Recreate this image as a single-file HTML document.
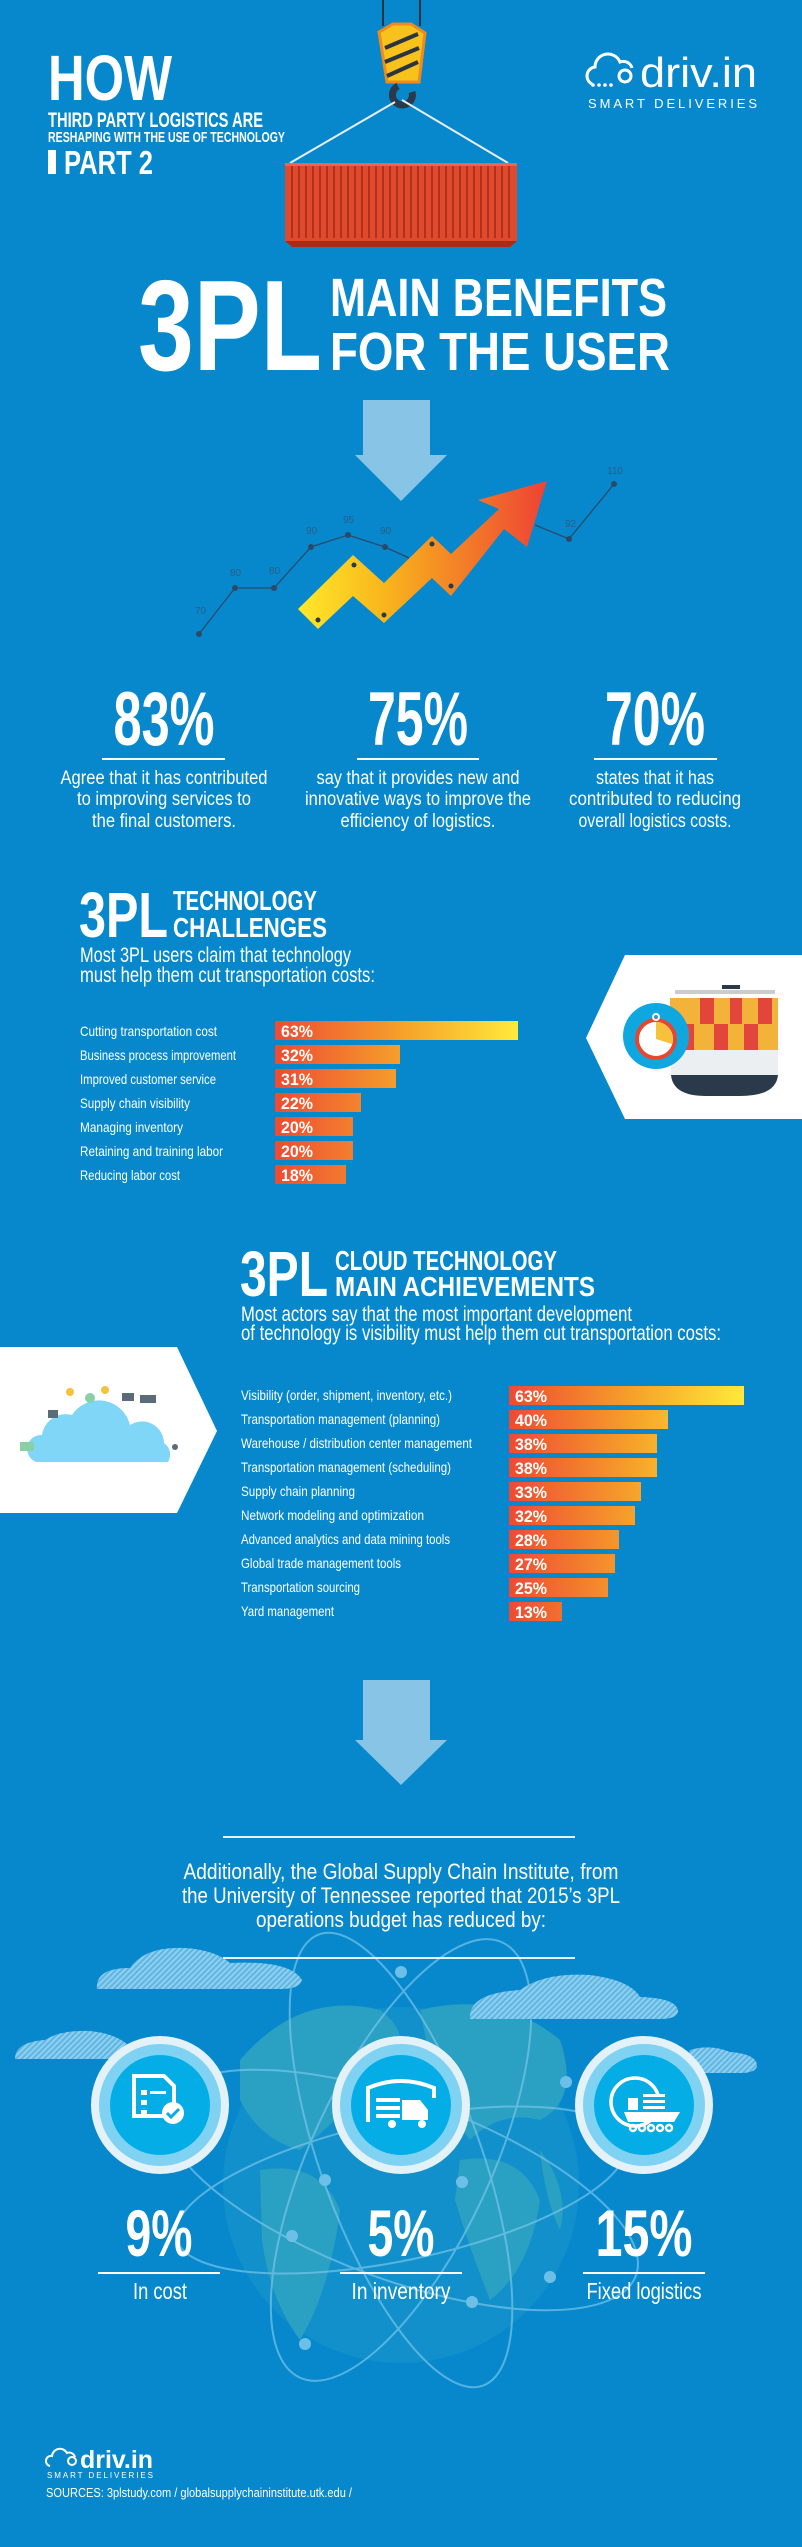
<!DOCTYPE html>
<html><head><meta charset="utf-8"><style>
html,body{margin:0;padding:0;background:#0788cd;}
svg{display:block}
text{font-family:"Liberation Sans Narrow","Liberation Sans",Arial,sans-serif;fill:#fff}
.b{font-weight:bold}
.lab{font-size:14px}
.pct{font-size:17px;font-weight:bold}
text.cl{fill:#2c5d85;font-size:10px}
</style></head><body>
<svg width="802" height="2547" viewBox="0 0 802 2547" xmlns="http://www.w3.org/2000/svg">
<defs>
<linearGradient id="g1" gradientUnits="userSpaceOnUse" x1="275" y1="0" x2="518" y2="0">
<stop offset="0" stop-color="#ee4a33"/><stop offset="0.55" stop-color="#f6a52a"/><stop offset="1" stop-color="#ffe93a"/></linearGradient>
<linearGradient id="g2" gradientUnits="userSpaceOnUse" x1="509" y1="0" x2="744" y2="0">
<stop offset="0" stop-color="#ee4a33"/><stop offset="0.55" stop-color="#f6a52a"/><stop offset="1" stop-color="#ffe93a"/></linearGradient>
<linearGradient id="ga" gradientUnits="userSpaceOnUse" x1="298" y1="0" x2="547" y2="0">
<stop offset="0" stop-color="#ffe92a"/><stop offset="0.35" stop-color="#f8b51c"/><stop offset="1" stop-color="#ee4234"/></linearGradient>
<pattern id="hatch" width="4" height="4" patternUnits="userSpaceOnUse" patternTransform="rotate(45)">
<rect width="4" height="4" fill="#5fb6e2"/><rect width="2" height="4" fill="#8fd0f0"/></pattern>
</defs>
<rect width="802" height="2547" fill="#0788cd"/>

<!-- header -->
<text x="48" y="100" class="b" font-size="64" textLength="124" lengthAdjust="spacingAndGlyphs">HOW</text>
<text x="48" y="127" class="b" font-size="21" textLength="215" lengthAdjust="spacingAndGlyphs">THIRD PARTY LOGISTICS ARE</text>
<text x="48" y="142" class="b" font-size="15" textLength="237" lengthAdjust="spacingAndGlyphs">RESHAPING WITH THE USE OF TECHNOLOGY</text>
<rect x="48" y="150" width="8" height="24" fill="#fff"/>
<text x="64" y="174" class="b" font-size="33" textLength="89" lengthAdjust="spacingAndGlyphs">PART 2</text>

<!-- logo -->
<g fill="none" stroke="#fff" stroke-width="3">
<path d="M592 84 a9 9 0 0 1 3 -17 a13 13 0 0 1 25 -5 a9 9 0 0 1 12 6"/>
<circle cx="625" cy="76" r="6"/>
</g>
<circle cx="593" cy="85" r="1.8" fill="#fff"/><circle cx="599" cy="85" r="1.8" fill="#fff"/><circle cx="605" cy="85" r="1.8" fill="#fff"/><circle cx="611" cy="85" r="1.8" fill="#fff"/>
<text x="640" y="87" font-size="42" textLength="117" lengthAdjust="spacingAndGlyphs">driv.in</text>
<text x="588" y="108" font-size="13" textLength="169" lengthAdjust="spacing">SMART DELIVERIES</text>

<!-- hook + container -->
<line x1="383" y1="0" x2="383" y2="26" stroke="#2b3440" stroke-width="2"/>
<line x1="420" y1="0" x2="420" y2="26" stroke="#2b3440" stroke-width="2"/>
<polygon points="379,32 393,24 411,24 425,33 419,82 387,82" fill="#f7c21b" stroke="#f08a1d" stroke-width="3"/>
<g stroke="#2b3440" stroke-width="4"><line x1="385" y1="48" x2="418" y2="34"/><line x1="385" y1="62" x2="419" y2="48"/><line x1="387" y1="76" x2="418" y2="62"/></g>
<path d="M412 92 a10 10 0 1 1 -14 -6" fill="none" stroke="#2b3a4a" stroke-width="7"/>
<line x1="395" y1="102" x2="290" y2="163" stroke="#e9eef2" stroke-width="2"/>
<line x1="402" y1="100" x2="508" y2="163" stroke="#e9eef2" stroke-width="2"/>
<rect x="285" y="163" width="232" height="78" fill="#e04a2c"/>
<g stroke="#b3311c" stroke-width="2">
<path d="M292 166V238M299 166V238M306 166V238M313 166V238M320 166V238M327 166V238M334 166V238M341 166V238M348 166V238M355 166V238M362 166V238M369 166V238M376 166V238M383 166V238M390 166V238M397 166V238M404 166V238M411 166V238M418 166V238M425 166V238M432 166V238M439 166V238M446 166V238M453 166V238M460 166V238M467 166V238M474 166V238M481 166V238M488 166V238M495 166V238M502 166V238M509 166V238"/></g>
<rect x="285" y="163" width="232" height="3" fill="#f0654a"/>
<polygon points="285,241 517,241 510,247 292,247" fill="#a82a17"/>

<!-- title -->
<text x="138" y="370" class="b" font-size="129" textLength="184" lengthAdjust="spacingAndGlyphs">3PL</text>
<text x="330" y="316" class="b" font-size="54" textLength="337" lengthAdjust="spacingAndGlyphs">MAIN BENEFITS</text>
<text x="330" y="370" class="b" font-size="54" textLength="340" lengthAdjust="spacingAndGlyphs">FOR THE USER</text>

<!-- down arrow -->
<rect x="363" y="400" width="67" height="56" fill="#87c4e6"/>
<polygon points="355,455 447,455 401,501" fill="#87c4e6"/>

<!-- line chart -->
<polyline points="199,634 235,588 274,588 311,547 348,535 385,547 409,558" fill="none" stroke="#2b4a6b" stroke-width="1.3"/>
<polyline points="535,525 569,539 614,484" fill="none" stroke="#2b4a6b" stroke-width="1.3"/>
<g fill="#2b4a6b"><circle cx="199" cy="634" r="3"/><circle cx="235" cy="588" r="3"/><circle cx="274" cy="588" r="3"/><circle cx="311" cy="547" r="3"/><circle cx="348" cy="535" r="3"/><circle cx="385" cy="547" r="3"/><circle cx="569" cy="539" r="3"/><circle cx="614" cy="484" r="3"/></g>
<text x="195" y="614" class="cl">70</text><text x="230" y="576" class="cl">80</text><text x="269" y="574" class="cl">80</text><text x="306" y="534" class="cl">90</text><text x="343" y="523" class="cl">95</text><text x="380" y="534" class="cl">90</text><text x="565" y="527" class="cl">92</text><text x="607" y="474" class="cl">110</text>
<polygon points="298,609 353,555 384,583 432,536 451,554 499,509 478,500 547,481 527,547 504,529 451,596 432,578 384,623 353,596 318,629" fill="url(#ga)"/>
<g fill="#2b3a4a"><circle cx="318" cy="620" r="2.5"/><circle cx="354" cy="565" r="2.5"/><circle cx="384" cy="615" r="2.5"/><circle cx="432" cy="544" r="2.5"/><circle cx="451" cy="586" r="2.5"/></g>

<!-- stats -->
<g font-size="76" text-anchor="middle">
<text x="164" y="745" class="b" textLength="101" lengthAdjust="spacingAndGlyphs">83%</text>
<text x="418" y="745" class="b" textLength="100" lengthAdjust="spacingAndGlyphs">75%</text>
<text x="655" y="745" class="b" textLength="100" lengthAdjust="spacingAndGlyphs">70%</text></g>
<g fill="#fff"><rect x="102" y="758" width="123" height="2"/><rect x="357" y="758" width="122" height="2"/><rect x="594" y="758" width="123" height="2"/></g>
<g font-size="19" text-anchor="middle">
<text x="164" y="784" textLength="207" lengthAdjust="spacingAndGlyphs">Agree that it has contributed</text>
<text x="164" y="805" textLength="174" lengthAdjust="spacingAndGlyphs">to improving services to</text>
<text x="164" y="827" textLength="144" lengthAdjust="spacingAndGlyphs">the final customers.</text>
<text x="418" y="784" textLength="203" lengthAdjust="spacingAndGlyphs">say that it provides new and</text>
<text x="418" y="805" textLength="226" lengthAdjust="spacingAndGlyphs">innovative ways to improve the</text>
<text x="418" y="827" textLength="155" lengthAdjust="spacingAndGlyphs">efficiency of logistics.</text>
<text x="655" y="784" textLength="118" lengthAdjust="spacingAndGlyphs">states that it has</text>
<text x="655" y="805" textLength="172" lengthAdjust="spacingAndGlyphs">contributed to reducing</text>
<text x="655" y="827" textLength="153" lengthAdjust="spacingAndGlyphs">overall logistics costs.</text></g>

<!-- section 2 -->
<text x="79" y="937" class="b" font-size="64" textLength="89" lengthAdjust="spacingAndGlyphs">3PL</text>
<text x="173" y="910" class="b" font-size="28" textLength="144" lengthAdjust="spacingAndGlyphs">TECHNOLOGY</text>
<text x="173" y="937" class="b" font-size="28" textLength="154" lengthAdjust="spacingAndGlyphs">CHALLENGES</text>
<text x="80" y="962" font-size="21" textLength="271" lengthAdjust="spacingAndGlyphs">Most 3PL users claim that technology</text>
<text x="80" y="982" font-size="21" textLength="295" lengthAdjust="spacingAndGlyphs">must help them cut transportation costs:</text>

<g class="lab">
<text x="80" y="1036" font-size="14" textLength="137" lengthAdjust="spacingAndGlyphs">Cutting transportation  cost</text>
<text x="80" y="1060" font-size="14" textLength="156" lengthAdjust="spacingAndGlyphs">Business process improvement</text>
<text x="80" y="1084" font-size="14" textLength="136" lengthAdjust="spacingAndGlyphs">Improved customer service</text>
<text x="80" y="1108" font-size="14" textLength="110" lengthAdjust="spacingAndGlyphs">Supply chain visibility</text>
<text x="80" y="1132" font-size="14" textLength="103" lengthAdjust="spacingAndGlyphs">Managing inventory</text>
<text x="80" y="1156" font-size="14" textLength="143" lengthAdjust="spacingAndGlyphs">Retaining and training labor</text>
<text x="80" y="1180" font-size="14" textLength="100" lengthAdjust="spacingAndGlyphs">Reducing labor cost</text></g>
<g fill="url(#g1)">
<rect x="275" y="1021" width="243" height="19"/>
<rect x="275" y="1045" width="125" height="19"/>
<rect x="275" y="1069" width="121" height="19"/>
<rect x="275" y="1093" width="86" height="19"/>
<rect x="275" y="1117" width="78" height="19"/>
<rect x="275" y="1141" width="78" height="19"/>
<rect x="275" y="1165" width="71" height="19"/></g>
<g>
<text x="281" y="1037" class="pct" textLength="32" lengthAdjust="spacingAndGlyphs">63%</text><text x="281" y="1061" class="pct" textLength="32" lengthAdjust="spacingAndGlyphs">32%</text><text x="281" y="1085" class="pct" textLength="32" lengthAdjust="spacingAndGlyphs">31%</text><text x="281" y="1109" class="pct" textLength="32" lengthAdjust="spacingAndGlyphs">22%</text><text x="281" y="1133" class="pct" textLength="32" lengthAdjust="spacingAndGlyphs">20%</text><text x="281" y="1157" class="pct" textLength="32" lengthAdjust="spacingAndGlyphs">20%</text><text x="281" y="1181" class="pct" textLength="32" lengthAdjust="spacingAndGlyphs">18%</text></g>

<!-- ship panel -->
<polygon points="625,955 802,955 802,1119 625,1119 586,1038" fill="#fff"/>
<rect x="670" y="998" width="108" height="52" fill="#f3b33a"/>
<g fill="#e2463a"><rect x="700" y="998" width="14" height="26"/><rect x="730" y="998" width="12" height="26"/><rect x="758" y="998" width="14" height="26"/><rect x="680" y="1024" width="14" height="26"/><rect x="714" y="1024" width="14" height="26"/><rect x="744" y="1024" width="14" height="26"/></g>
<rect x="675" y="990" width="100" height="4" fill="#ccc"/>
<rect x="722" y="985" width="18" height="4" fill="#2b3a4a"/>
<path d="M671 1050 H778 V1075 H671Z" fill="#eceff2"/>
<path d="M671 1075 H778 Q776 1096 740 1096 H706 Q673 1096 671 1075Z" fill="#2b3a4a"/>
<circle cx="656" cy="1036" r="33" fill="#0fa7e0"/>
<circle cx="656" cy="1039" r="19" fill="#fff" stroke="#e5472f" stroke-width="4"/>
<path d="M656 1039 L656 1022 A17 17 0 0 1 672 1044Z" fill="#f5c23a"/>
<circle cx="656" cy="1017" r="3" fill="none" stroke="#fff" stroke-width="2"/>

<!-- section 3 -->
<text x="240" y="1296" class="b" font-size="64" textLength="88" lengthAdjust="spacingAndGlyphs">3PL</text>
<text x="335" y="1270" class="b" font-size="28" textLength="222" lengthAdjust="spacingAndGlyphs">CLOUD TECHNOLOGY</text>
<text x="335" y="1296" class="b" font-size="28" textLength="260" lengthAdjust="spacingAndGlyphs">MAIN ACHIEVEMENTS</text>
<text x="241" y="1321" font-size="21" textLength="391" lengthAdjust="spacingAndGlyphs">Most actors say that the most important development</text>
<text x="241" y="1340" font-size="21" textLength="480" lengthAdjust="spacingAndGlyphs">of technology is visibility must help them cut transportation costs:</text>

<polygon points="0,1347 177,1347 217,1431 177,1513 0,1513" fill="#fff"/>
<path d="M36 1462 a14 14 0 0 1 6 -27 a24 24 0 0 1 30 -20 a32 32 0 0 1 58 10 a22 22 0 0 1 34 18 a14 14 0 0 1 4 19Z" fill="#7fd6f7"/>
<g fill="#5a6b7a"><rect x="48" y="1410" width="10" height="8"/><rect x="122" y="1393" width="12" height="8"/><rect x="140" y="1395" width="16" height="8"/><circle cx="175" cy="1447" r="3"/></g>
<g fill="#f5c23a"><circle cx="70" cy="1392" r="4"/><circle cx="105" cy="1390" r="4"/></g>
<g fill="#8ad0a6"><rect x="20" y="1442" width="14" height="9"/><circle cx="90" cy="1398" r="5"/></g>

<g class="lab">
<text x="241" y="1400" font-size="14" textLength="211" lengthAdjust="spacingAndGlyphs">Visibility (order, shipment, inventory, etc.)</text>
<text x="241" y="1424" font-size="14" textLength="199" lengthAdjust="spacingAndGlyphs">Transportation management (planning)</text>
<text x="241" y="1448" font-size="14" textLength="231" lengthAdjust="spacingAndGlyphs">Warehouse / distribution center management</text>
<text x="241" y="1472" font-size="14" textLength="210" lengthAdjust="spacingAndGlyphs">Transportation management (scheduling)</text>
<text x="241" y="1496" font-size="14" textLength="114" lengthAdjust="spacingAndGlyphs">Supply chain planning</text>
<text x="241" y="1520" font-size="14" textLength="183" lengthAdjust="spacingAndGlyphs">Network modeling and optimization</text>
<text x="241" y="1544" font-size="14" textLength="209" lengthAdjust="spacingAndGlyphs">Advanced analytics and data mining tools</text>
<text x="241" y="1568" font-size="14" textLength="160" lengthAdjust="spacingAndGlyphs">Global trade management tools</text>
<text x="241" y="1592" font-size="14" textLength="119" lengthAdjust="spacingAndGlyphs">Transportation sourcing</text>
<text x="241" y="1616" font-size="14" textLength="93" lengthAdjust="spacingAndGlyphs">Yard management</text></g>
<g fill="url(#g2)">
<rect x="509" y="1386" width="235" height="19"/>
<rect x="509" y="1410" width="159" height="19"/>
<rect x="509" y="1434" width="148" height="19"/>
<rect x="509" y="1458" width="148" height="19"/>
<rect x="509" y="1482" width="132" height="19"/>
<rect x="509" y="1506" width="126" height="19"/>
<rect x="509" y="1530" width="110" height="19"/>
<rect x="509" y="1554" width="106" height="19"/>
<rect x="509" y="1578" width="99" height="19"/>
<rect x="509" y="1602" width="53" height="19"/></g>
<g>
<text x="515" y="1402" class="pct" textLength="32" lengthAdjust="spacingAndGlyphs">63%</text><text x="515" y="1426" class="pct" textLength="32" lengthAdjust="spacingAndGlyphs">40%</text><text x="515" y="1450" class="pct" textLength="32" lengthAdjust="spacingAndGlyphs">38%</text><text x="515" y="1474" class="pct" textLength="32" lengthAdjust="spacingAndGlyphs">38%</text><text x="515" y="1498" class="pct" textLength="32" lengthAdjust="spacingAndGlyphs">33%</text><text x="515" y="1522" class="pct" textLength="32" lengthAdjust="spacingAndGlyphs">32%</text><text x="515" y="1546" class="pct" textLength="32" lengthAdjust="spacingAndGlyphs">28%</text><text x="515" y="1570" class="pct" textLength="32" lengthAdjust="spacingAndGlyphs">27%</text><text x="515" y="1594" class="pct" textLength="32" lengthAdjust="spacingAndGlyphs">25%</text><text x="515" y="1618" class="pct" textLength="32" lengthAdjust="spacingAndGlyphs">13%</text></g>

<!-- arrow 2 -->
<rect x="363" y="1680" width="67" height="61" fill="#87c4e6"/>
<polygon points="355,1740 447,1740 401,1785" fill="#87c4e6"/>

<!-- globe -->
<circle cx="401" cy="2185" r="178" fill="#1190cb"/>
<g fill="#2aa0c3">
<path d="M240 2060 Q300 1990 380 2010 Q420 2040 380 2070 Q340 2120 300 2150 Q260 2140 240 2100Z"/>
<path d="M260 2170 Q320 2160 340 2210 Q330 2290 300 2340 Q270 2300 262 2240Z"/>
<path d="M420 2010 Q500 1990 560 2040 Q580 2100 540 2120 Q500 2110 470 2140 Q440 2100 430 2060Z"/>
<path d="M460 2160 Q520 2150 540 2200 Q530 2270 490 2300 Q470 2250 455 2200Z"/>
<path d="M540 2150 Q570 2190 560 2230 Q545 2200 540 2150Z"/></g>
<g fill="none" stroke="#76c6ea" stroke-width="2" opacity="0.7">
<ellipse cx="401" cy="2190" rx="230" ry="70" transform="rotate(-12 401 2190)"/>
<ellipse cx="401" cy="2190" rx="250" ry="90" transform="rotate(20 401 2190)"/>
<ellipse cx="401" cy="2160" rx="90" ry="240" transform="rotate(25 401 2160)"/>
<ellipse cx="401" cy="2160" rx="80" ry="240" transform="rotate(-20 401 2160)"/></g>
<g fill="#6cc0e8"><circle cx="401" cy="1972" r="6"/><circle cx="325" cy="2180" r="6"/><circle cx="292" cy="2236" r="6"/><circle cx="462" cy="2182" r="6"/><circle cx="472" cy="2302" r="6"/><circle cx="305" cy="2344" r="6"/><circle cx="550" cy="2277" r="6"/><circle cx="566" cy="2082" r="6"/></g>

<!-- hatched clouds -->
<g fill="url(#hatch)">
<path d="M97 1989 Q95 1968 130 1968 Q145 1946 185 1948 Q215 1950 230 1963 Q290 1960 302 1980 Q300 1989 280 1989Z"/>
<path d="M470 2019 Q468 1993 520 1990 Q545 1972 590 1975 Q630 1980 640 1997 Q678 1998 678 2012 Q676 2019 660 2019Z"/>
<path d="M15 2059 Q15 2042 45 2040 Q60 2030 90 2031 Q120 2034 133 2050 L133 2059Z"/>
<path d="M680 2073 L690 2050 Q710 2044 730 2052 Q757 2054 757 2066 Q756 2073 740 2073Z"/></g>

<!-- circles -->
<g>
<circle cx="160" cy="2105" r="69" fill="#e3f1f8"/><circle cx="160" cy="2105" r="61" fill="#7fd2f2"/><circle cx="160" cy="2105" r="50" fill="#04ade6"/>
<circle cx="401" cy="2105" r="69" fill="#e3f1f8"/><circle cx="401" cy="2105" r="61" fill="#7fd2f2"/><circle cx="401" cy="2105" r="50" fill="#04ade6"/>
<circle cx="644" cy="2105" r="69" fill="#e3f1f8"/><circle cx="644" cy="2105" r="61" fill="#7fd2f2"/><circle cx="644" cy="2105" r="50" fill="#04ade6"/></g>
<g fill="#fff">
<path d="M134 2076 h30 l10 10 v30 h-40Z" fill="none" stroke="#fff" stroke-width="4"/>
<rect x="141" y="2090" width="6" height="5"/><rect x="150" y="2091" width="16" height="3"/><rect x="141" y="2100" width="6" height="5"/><rect x="141" y="2110" width="6" height="5"/>
<circle cx="173" cy="2113" r="11"/>
<path d="M167 2113 l4 4 l8 -8" fill="none" stroke="#04ade6" stroke-width="3"/>
<path d="M368 2122 v-34 q33 -14 66 0 v10" fill="none" stroke="#fff" stroke-width="4"/>
<rect x="376" y="2098" width="24" height="4"/><rect x="376" y="2106" width="24" height="4"/><rect x="376" y="2114" width="24" height="4"/>
<path d="M402 2100 h18 l8 10 v10 h-26Z"/>
<circle cx="392" cy="2124" r="4"/><circle cx="422" cy="2124" r="4"/>
<circle cx="635" cy="2102" r="24" fill="none" stroke="#fff" stroke-width="3.5"/>
<rect x="628" y="2094" width="46" height="20" fill="#04ade6"/>
<rect x="628" y="2098" width="10" height="12"/><rect x="643" y="2094" width="22" height="3"/><rect x="643" y="2100" width="22" height="3"/><rect x="643" y="2106" width="22" height="3"/>
<path d="M624 2112 h56 l-6 10 h-46Z"/>
<g fill="none" stroke="#fff" stroke-width="2.5"><circle cx="633" cy="2128" r="3"/><circle cx="642" cy="2128" r="3"/><circle cx="651" cy="2128" r="3"/><circle cx="660" cy="2128" r="3"/><circle cx="669" cy="2128" r="3"/></g></g>

<!-- stats bottom -->
<text x="159" y="2256" class="b" font-size="66" text-anchor="middle" textLength="67" lengthAdjust="spacingAndGlyphs">9%</text>
<text x="401" y="2256" class="b" font-size="66" text-anchor="middle" textLength="67" lengthAdjust="spacingAndGlyphs">5%</text>
<text x="644" y="2256" class="b" font-size="66" text-anchor="middle" textLength="97" lengthAdjust="spacingAndGlyphs">15%</text>
<g fill="#fff"><rect x="98" y="2272" width="122" height="2"/><rect x="340" y="2272" width="122" height="2"/><rect x="583" y="2272" width="122" height="2"/></g>
<text x="160" y="2299" font-size="23" text-anchor="middle" textLength="54" lengthAdjust="spacingAndGlyphs">In cost</text>
<text x="401" y="2299" font-size="23" text-anchor="middle" textLength="99" lengthAdjust="spacingAndGlyphs">In inventory</text>
<text x="644" y="2299" font-size="23" text-anchor="middle" textLength="115" lengthAdjust="spacingAndGlyphs">Fixed logistics</text>

<!-- text block -->
<rect x="223" y="1836" width="352" height="2" fill="#e6f2f9"/>
<rect x="223" y="1957" width="352" height="2" fill="#e6f2f9"/>
<g font-size="22" text-anchor="middle">
<text x="401" y="1879" textLength="435" lengthAdjust="spacingAndGlyphs">Additionally, the Global Supply Chain Institute, from</text>
<text x="401" y="1903" textLength="438" lengthAdjust="spacingAndGlyphs">the University of Tennessee reported that 2015’s 3PL</text>
<text x="401" y="1927" textLength="290" lengthAdjust="spacingAndGlyphs">operations budget has reduced by:</text></g>

<!-- footer -->
<g fill="none" stroke="#fff" stroke-width="2">
<path d="M50 2466 a5 5 0 0 1 2 -10 a8 8 0 0 1 15 -3 a6 6 0 0 1 8 4"/><circle cx="72" cy="2461" r="4"/></g>
<text x="80" y="2468" class="b" font-size="25" textLength="73" lengthAdjust="spacingAndGlyphs">driv.in</text>
<text x="47" y="2478" font-size="8" textLength="106" lengthAdjust="spacing">SMART DELIVERIES</text>
<text x="46" y="2497" font-size="13" textLength="306" lengthAdjust="spacingAndGlyphs">SOURCES: 3plstudy.com / globalsupplychaininstitute.utk.edu /</text>
</svg>
</body></html>
